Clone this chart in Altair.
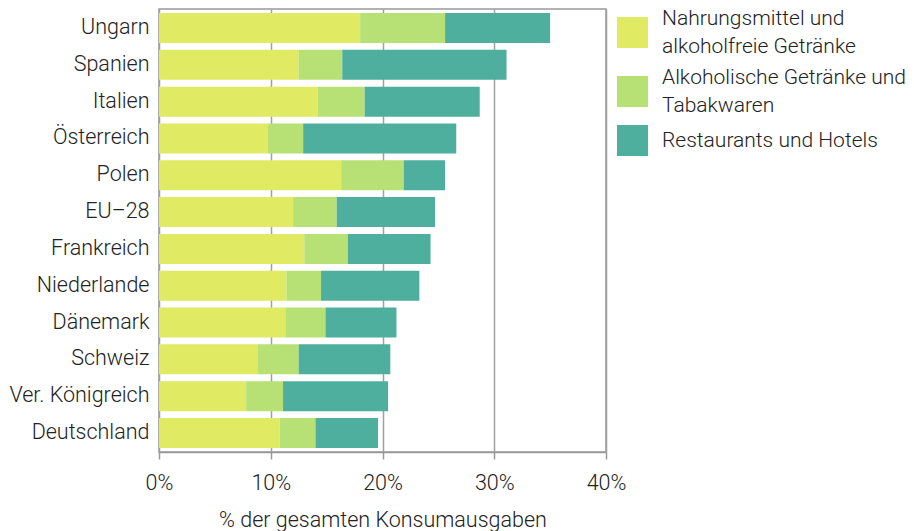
import altair as alt
import pandas as pd

countries = ["Ungarn", "Spanien", "Italien", "Österreich", "Polen", "EU–28",
             "Frankreich", "Niederlande", "Dänemark", "Schweiz",
             "Ver. Königreich", "Deutschland"]
categories = ["Nahrungsmittel und alkoholfreie Getränke",
              "Alkoholische Getränke und Tabakwaren",
              "Restaurants und Hotels"]
food = [18.0, 12.5, 14.2, 9.7, 16.3, 12.0, 13.0, 11.4, 11.3, 8.8, 7.8, 10.8]
alcohol = [7.6, 3.9, 4.2, 3.2, 5.6, 3.9, 3.9, 3.1, 3.6, 3.7, 3.3, 3.2]
restaurants = [9.4, 14.7, 10.3, 13.7, 3.7, 8.8, 7.4, 8.8, 6.35, 8.2, 9.4, 5.6]
colors = ["#e0ea62", "#b7e175", "#4faf9f"]

rows = []
for i, c in enumerate(countries):
    for k, (cat, vals) in enumerate(zip(categories, [food, alcohol, restaurants])):
        rows.append({"Land": c, "Kategorie": cat, "Wert": vals[i] / 100, "ord": k})
df = pd.DataFrame(rows)

FONT = "Roboto"
TXT = "#222222"
FS = 21.5
LFS = 21

label_expr = ("datum.label == 'Nahrungsmittel und alkoholfreie Getränke' ? "
              "['Nahrungsmittel und', 'alkoholfreie Getränke'] : "
              "datum.label == 'Alkoholische Getränke und Tabakwaren' ? "
              "['Alkoholische Getränke und', 'Tabakwaren'] : datum.label")
baseline_expr = ("datum.label == 'Restaurants und Hotels' ? 'middle' : 'line-bottom'")

chart = alt.Chart(df).mark_bar().encode(
    x=alt.X("Wert:Q", stack="zero",
            scale=alt.Scale(domain=[0, 0.4], nice=False),
            axis=alt.Axis(format="%", values=[0, 0.1, 0.2, 0.3, 0.4],
                          title="% der gesamten Konsumausgaben",
                          tickSize=7, labelPadding=13, titlePadding=16,
                          labelFlush=False,
                          domainColor="#999999", tickColor="#999999",
                          gridColor="#a0a0a0", gridWidth=1.5,
                          domainWidth=1.5, tickWidth=1.5)),
    y=alt.Y("Land:N", sort=countries,
            scale=alt.Scale(paddingInner=0.185, paddingOuter=0.11),
            axis=alt.Axis(title=None, ticks=False, labelPadding=10,
                          minExtent=151, maxExtent=151, grid=False,
                          domain=False, labelLimit=200)),
    color=alt.Color("Kategorie:N",
                    scale=alt.Scale(domain=categories, range=colors),
                    legend=alt.Legend(title=None, orient="none",
                                      legendX=458, legendY=8,
                                      symbolType="square", symbolSize=961,
                                      symbolStrokeWidth=0, symbolOpacity=1,
                                      labelFontSize=LFS, labelOffset=14,
                                      labelLimit=300, rowPadding=9,
                                      padding=0, labelExpr=label_expr,
                                      labelBaseline=alt.ExprRef(expr=baseline_expr))),
    order=alt.Order("ord:Q"),
).properties(
    width=447, height=443,
    padding={"top": 1, "left": 0, "right": 0, "bottom": 0},
).configure(
    style={"guide-label": {"lineHeight": 28}}
).configure_view(
    stroke="#999999", strokeWidth=1.5
).configure_axis(
    labelFont=FONT, titleFont=FONT, labelFontSize=FS, titleFontSize=FS,
    labelColor=TXT, titleColor=TXT, labelFontWeight=300, titleFontWeight=300,
).configure_legend(
    labelFont=FONT, labelColor=TXT, labelFontWeight=300,
)

chart.save("out.html", embed_options={"renderer": "svg", "actions": False})
